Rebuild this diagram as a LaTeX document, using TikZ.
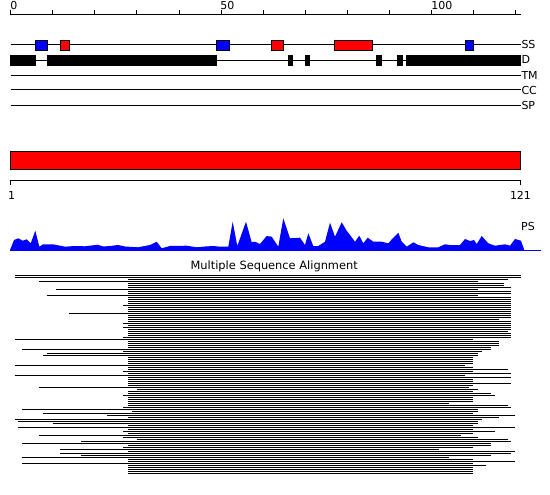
\documentclass[tikz,border=0pt]{standalone}
\usepackage{fontspec}
\setmainfont{DejaVu Sans}
\definecolor{ssblue}{RGB}{0,0,255}
\definecolor{ssred}{RGB}{255,0,0}
\tikzset{
  thin1/.style={line width=1pt,black},
  ssbox/.style={draw=black,line width=1pt},
  dbox/.style={fill=black,draw=black,line width=0.6pt},
  lbl/.style={inner sep=0pt,font=\fontsize{11}{13}\selectfont},
  msa/.style={line width=1pt,black},
}
\begin{document}
\begin{tikzpicture}[x=1pt,y=-1pt]
\useasboundingbox (0,0) rectangle (550,495);
\fill[white] (0,0) rectangle (550,495);
% top ruler
\draw[thin1] (10.7,15) -- (520.7,15);
\foreach \i in {0,...,12} \draw[thin1] ({10.7+42.08*\i},15.5) -- ({10.7+42.08*\i},10);
\node[lbl,anchor=base west] (r0) at (10.2,9.5) {0};
\node[lbl,anchor=base west] (r50) at (220.2,9.5) {50};
\node[lbl,anchor=base west] (r100) at (431.2,9.5) {100};
% tracks
\draw[thin1] (10.7,45) -- (520.5,45);
\draw[thin1] (10.7,60.3) -- (520.5,60.3);
\draw[thin1] (10.7,75.3) -- (520.5,75.3);
\draw[thin1] (10.7,90) -- (520.5,90);
\draw[thin1] (10.7,105.3) -- (520.5,105.3);
% SS boxes
\filldraw[ssbox,fill=ssblue] (35.8,40.8) rectangle (47.3,50.3);
\filldraw[ssbox,fill=ssred] (60.8,40.8) rectangle (69.3,50.3);
\filldraw[ssbox,fill=ssblue] (216.8,40.8) rectangle (229.3,50.3);
\filldraw[ssbox,fill=ssred] (271.5,40.8) rectangle (283,50.3);
\filldraw[ssbox,fill=ssred] (334.8,40.8) rectangle (372,50.3);
\filldraw[ssbox,fill=ssblue] (465.8,40.8) rectangle (473.3,50.3);
% D boxes
\filldraw[dbox] (10.3,55.5) rectangle (35.7,65.5);
\filldraw[dbox] (47,55.5) rectangle (216.7,65.5);
\filldraw[dbox] (288.3,55.5) rectangle (292.7,65.5);
\filldraw[dbox] (305,55.5) rectangle (309.7,65.5);
\filldraw[dbox] (376,55.5) rectangle (381,65.5);
\filldraw[dbox] (397,55.5) rectangle (402,65.5);
\filldraw[dbox] (406,55.5) rectangle (520,65.5);
% track labels
\node[lbl,anchor=base west] (lss) at (521.3,48.6) {SS};
\node[lbl,anchor=base west] (ld) at (521.3,64) {D};
\node[lbl,anchor=base west] (ltm) at (521.3,79.3) {TM};
\node[lbl,anchor=base west] (lcc) at (521.3,94.3) {CC};
\node[lbl,anchor=base west] (lsp) at (521.3,109.3) {SP};
% red bar
\filldraw[draw=black,line width=1pt,fill=ssred] (10.7,151.2) rectangle (520.2,169.8);
% lower ruler
\draw[thin1] (10.7,185) -- (10.7,180.7) -- (520.2,180.7) -- (520.2,185);
\node[lbl,anchor=base] (l1) at (11.7,200) {1};
\node[lbl,anchor=base] (l121) at (520.5,200) {121};
% PS plot
\fill[ssblue] (10,250) -- (14,240) -- (18.3,238.3) -- (22.7,240.7) -- (26.7,239.3) -- (30.7,243.3) -- (35.3,230.7) -- (39.3,246.7) -- (43,244.3) -- (53,244.3) -- (56.7,245) -- (65,246.7) -- (75,246) -- (85,246.3) -- (97.7,244.7) -- (103,246.5) -- (110,246) -- (118,245) -- (125,246.5) -- (138,247.3) -- (150,245) -- (156.7,241.7) -- (161.7,248.3) -- (170,246) -- (186.7,245.7) -- (196.7,247.3) -- (205,246.5) -- (213.3,246) -- (220,246.7) -- (228.3,246.7) -- (232.7,221.7) -- (237.3,246) -- (246,221.7) -- (251.7,242.3) -- (255,241.7) -- (260,244) -- (266.7,236) -- (271.7,236.7) -- (275,241.7) -- (278.3,246.7) -- (283.3,218.3) -- (290,238.3) -- (300,237.7) -- (305,245) -- (308.3,233.3) -- (313.3,246) -- (318.3,246) -- (325,241.7) -- (330,222.7) -- (335,236.7) -- (341.7,222.3) -- (346.7,230.7) -- (355,241.7) -- (359.3,235.7) -- (363.3,243.3) -- (367.7,237.7) -- (373.3,241.7) -- (381.7,241.7) -- (388.3,243.3) -- (393.3,237.7) -- (398.3,232.7) -- (401.7,241.7) -- (406.7,246.7) -- (413.3,242.3) -- (418.3,245) -- (428.3,247.3) -- (438.3,247.3) -- (445,244.3) -- (450,245) -- (460,245) -- (465,239) -- (470,241) -- (474,240) -- (476.7,244) -- (481.7,236) -- (488.3,243.3) -- (495,245.7) -- (505,244.3) -- (510,245.7) -- (515,239) -- (521,240.7) -- (524.3,250) -- cycle;
\draw[ssblue,line width=1pt] (10,250) -- (540.7,250);
\node[lbl,anchor=base west] (lps) at (521,230.7) {PS};
% MSA
\node[inner sep=0pt,font=\fontsize{11.4}{13}\selectfont,anchor=base] (title) at (274.2,269.5) {Multiple Sequence Alignment};
\foreach \k/\a/\b in {0/14.5/520.7, 1/14.5/520.7, 2/128.3/507.7, 3/39.3/477.7, 4/128.3/503.7, 5/128.3/503.7, 6/128.3/511.3, 7/56/477.7, 8/128.3/511.3, 9/128.3/511.3,
 10/47.3/477.7, 11/128.3/511.3, 12/128.3/511.3, 13/128.3/511.3, 14/128.3/511.3, 15/123.3/511.3, 16/128.3/511.3, 17/128.3/511.3, 18/128.3/511.3, 19/69.3/511.3,
 20/128.3/511.3, 21/128.3/511.3, 22/128.3/498.7, 23/128.3/511.3, 24/123.3/511.3, 25/128.3/511.3, 26/123.3/511.3, 27/128.3/511.3, 28/128.3/507.7, 29/128.3/511.3,
 30/128.3/511.3, 31/123.3/511.3, 32/14.5/473.3, 33/128.3/498.7, 34/128.3/498.7, 35/128.3/498.7, 36/128.3/490.7, 37/22/490.7, 38/123.3/482.3, 39/47.3/477.7,
 40/43.3/477.7, 41/128.3/473.3, 42/128.3/473.3, 43/128.3/473.3, 44/128.3/473.3, 45/14.5/465, 46/128.3/473.3, 47/128.3/507.7, 48/123.3/473.3, 49/128.3/511.3,
 50/14.5/465, 51/128.3/511.3, 52/128.3/473.3, 53/128.3/473.3, 54/128.3/511.3, 55/128.3/473.3, 56/39.3/469.3, 57/136.7/477.7, 58/128.3/473.3, 59/128.3/490.7,
 60/123.3/494.7, 61/128.3/473.3, 62/128.3/473.3, 63/128.3/473.3, 64/128.3/448.7, 65/128.3/507.7, 66/123.3/511.3, 67/22/477.7, 68/131.7/477.7, 69/43.3/473.3,
 70/106.7/515.3, 71/128.3/498.7, 72/14.5/482.3, 73/18/477.7, 74/52.7/477.7, 75/128.3/473.3, 76/18/515.3, 77/128.3/473.3, 78/123.3/494.7, 79/128.3/473.3,
 80/39.3/460.7, 81/123.3/477.7, 82/136.7/507.7, 83/81.3/511.3, 84/22/490.7, 85/128.3/490.7, 86/123.3/473.3, 87/60/439.3, 88/128.3/515.3, 89/60/511.3,
 90/81.3/490.7, 91/22/448.7, 92/128.3/473.3, 93/128.3/515.3, 94/22/473.3, 95/128.3/486, 96/128.3/473.3, 97/128.3/473.3, 98/128.3/473.3, 99/128.3/473.3}
  \draw[msa] (\a,{275.5+2*\k}) -- (\b,{275.5+2*\k});
\end{tikzpicture}
\end{document}
